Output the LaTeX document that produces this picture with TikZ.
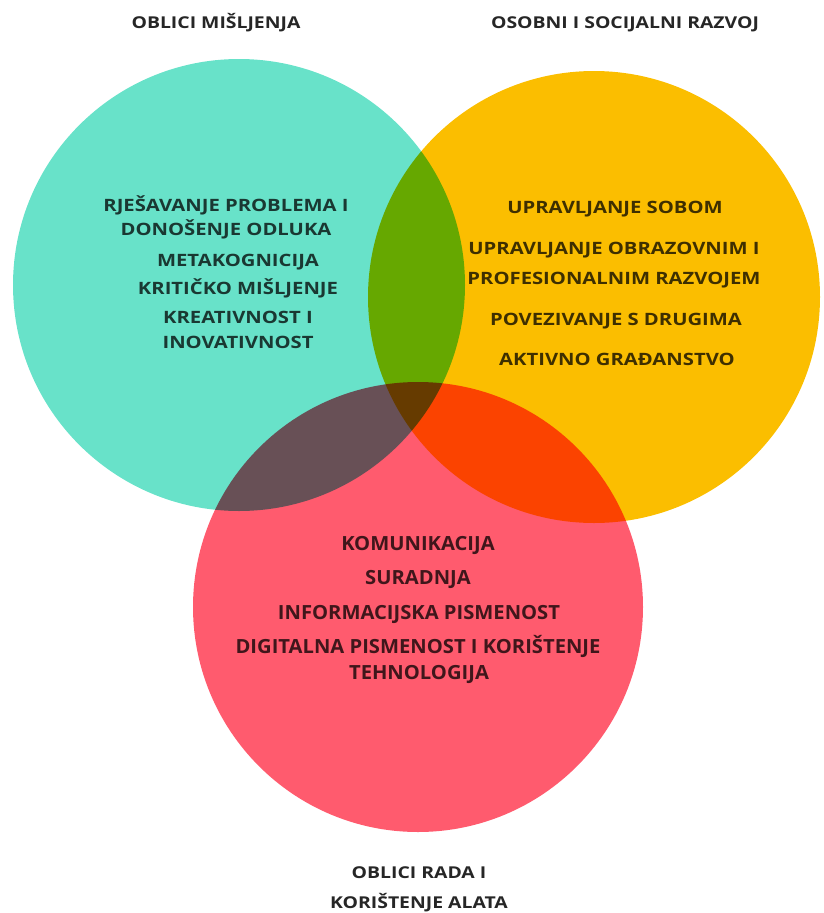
\documentclass[tikz,border=0pt]{standalone}
\usepackage{fontspec}
\setmainfont{Open Sans}
\newfontfamily\venfont{Open Sans}[FakeStretch=1.19]
\newfontfamily\alatfont{Open Sans}[FakeStretch=1.035]
\definecolor{tealc}{RGB}{104,226,201}
\definecolor{goldc}{RGB}{251,190,0}
\definecolor{redc}{RGB}{255,91,110}
\tikzset{
  item/.style={anchor=base, inner sep=0pt, text=black, text opacity=0.75,
    font=\venfont\bfseries\fontsize{17}{20}\selectfont},
  tool/.style={item, font=\alatfont\bfseries\fontsize{19.5}{22}\selectfont},
  title/.style={anchor=base, inner sep=0pt, text=black!85,
    font=\venfont\bfseries\fontsize{16.3}{19}\selectfont},
}
\begin{document}
\begin{tikzpicture}[x=1pt, y=-1pt]
  \useasboundingbox (0,0) rectangle (824,913);

  \begin{scope}[blend mode=multiply]
    \fill [tealc] (239,285) circle (226pt);
    \fill [goldc] (594,297) circle (226pt);
    \fill [redc] (418,607) circle (225pt);
  \end{scope}

  \node [title] (mis) at (216,28) {OBLICI MIŠLJENJA};
  \node [title] (soc) at (625,28) {OSOBNI I SOCIJALNI RAZVOJ};
  \node [title] (rad1) at (419,878) {OBLICI RADA I};
  \node [title] (rad2) at (419,908) {KORIŠTENJE ALATA};

  \node [item] (m1) at (226,211) {RJEŠAVANJE PROBLEMA I};
  \node [item] (m2) at (226,235) {DONOŠENJE ODLUKA};
  \node [item] (m3) at (238,266) {METAKOGNICIJA};
  \node [item] (m4) at (238,294) {KRITIČKO MIŠLJENJE};
  \node [item] (m5) at (238,323) {KREATIVNOST I};
  \node [item] (m6) at (238,348) {INOVATIVNOST};

  \node [item] (s1) at (615,213) {UPRAVLJANJE SOBOM};
  \node [item] (s2) at (614,254) {UPRAVLJANJE OBRAZOVNIM I};
  \node [item] (s3) at (614,284) {PROFESIONALNIM RAZVOJEM};
  \node [item] (s4) at (616,325) {POVEZIVANJE S DRUGIMA};
  \node [item] (s5) at (617,365) {AKTIVNO GRAĐANSTVO};

  \node [tool] (r1) at (418,550) {KOMUNIKACIJA};
  \node [tool] (r2) at (418,584) {SURADNJA};
  \node [tool] (r3) at (419,619) {INFORMACIJSKA PISMENOST};
  \node [tool] (r4) at (418,653) {DIGITALNA PISMENOST I KORIŠTENJE};
  \node [tool] (r5) at (419,679) {TEHNOLOGIJA};
\end{tikzpicture}
\end{document}
